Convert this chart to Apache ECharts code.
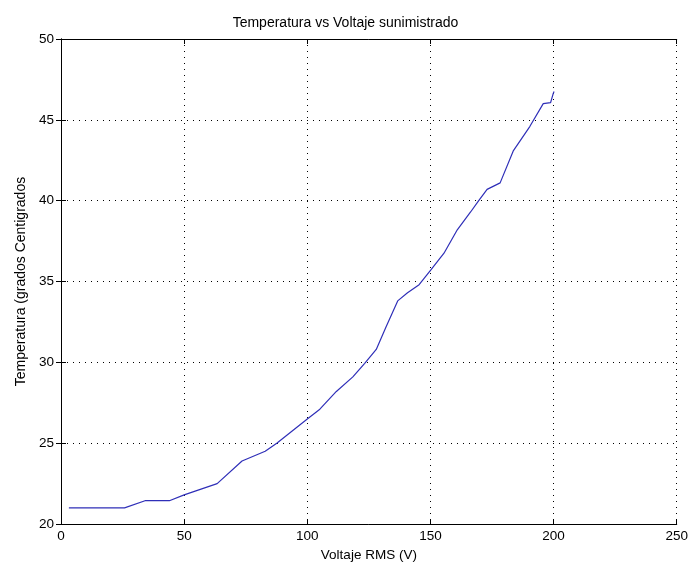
<!DOCTYPE html>
<html><head><meta charset="utf-8">
<script src="https://cdn.jsdelivr.net/npm/echarts@6/dist/echarts.min.js"></script>
<style>html,body{margin:0;padding:0;background:#fff}#c{width:691px;height:568px}</style>
</head><body><div id="c"></div>
<script>
const voltage = [3.2, 25.8, 34.1, 44, 50, 63.4, 73.5, 82.9, 87.6, 100, 105.1, 111.8, 118.5, 123.3, 128, 132, 136.7, 140.7, 145.4, 150.1, 155.5, 160.9, 166.3, 169.6, 173, 178.3, 183.7, 190.4, 195.8, 198.8, 199.9, 200.2];
const temperature = [21.0, 21.0, 21.44, 21.44, 21.8, 22.5, 23.9, 24.5, 25.0, 26.5, 27.1, 28.2, 29.1, 29.94, 30.8, 32.2, 33.8, 34.3, 34.8, 35.7, 36.75, 38.2, 39.3, 40.0, 40.7, 41.1, 43.1, 44.6, 46.0, 46.07, 46.65, 46.75];
const titleText = 'Temperatura vs Voltaje sunimistrado';
const xName = 'Voltaje RMS (V)';
const yName = 'Temperatura (grados Centigrados';

const font = 'Liberation Sans, Arial, sans-serif';
const chart = echarts.init(document.getElementById('c'));
const axisLine = {show:true, lineStyle:{color:'#000', width:1}};
const tick = {show:true, inside:true, length:5, lineStyle:{color:'#000'}};
chart.setOption({
  backgroundColor:'#fff',
  animation:false,
  title:{text:titleText, left:'center', top:11, textStyle:{fontFamily:font, fontSize:14, fontWeight:'normal', color:'#000'}},
  grid:{left:61, right:11, top:39, bottom:44, show:false},
  xAxis:[{
    type:'value', min:0, max:250, interval:50, position:'bottom',
    name:xName, nameLocation:'middle', nameGap:24,
    nameTextStyle:{fontFamily:font, fontSize:13.5, color:'#000'},
    axisLine, axisTick:tick,
    axisLabel:{fontFamily:font, fontSize:13.5, color:'#000', margin:5},
    splitLine:{show:true, lineStyle:{color:'#000', type:[1,5], width:1}}
  },{
    type:'value', min:0, max:250, interval:50, position:'top',
    axisLine, axisTick:tick, axisLabel:{show:false}, splitLine:{show:false}
  }],
  yAxis:[{
    type:'value', min:20, max:50, interval:5, position:'left',
    name:yName, nameLocation:'middle', nameGap:33,
    nameTextStyle:{fontFamily:font, fontSize:14, color:'#000'},
    axisLine, axisTick:tick,
    axisLabel:{fontFamily:font, fontSize:13.5, color:'#000', margin:7},
    splitLine:{show:true, lineStyle:{color:'#000', type:[1,5], width:1}}
  },{
    type:'value', min:20, max:50, interval:5, position:'right',
    axisLine, axisTick:tick, axisLabel:{show:false}, splitLine:{show:false}
  }],
  series:[{
    type:'line', data:voltage.map((v,i)=>[v, temperature[i]]),
    showSymbol:false, lineStyle:{color:'#2f2fb8', width:1.2}, itemStyle:{color:'#2f2fb8'}
  }]
});
</script></body></html>
